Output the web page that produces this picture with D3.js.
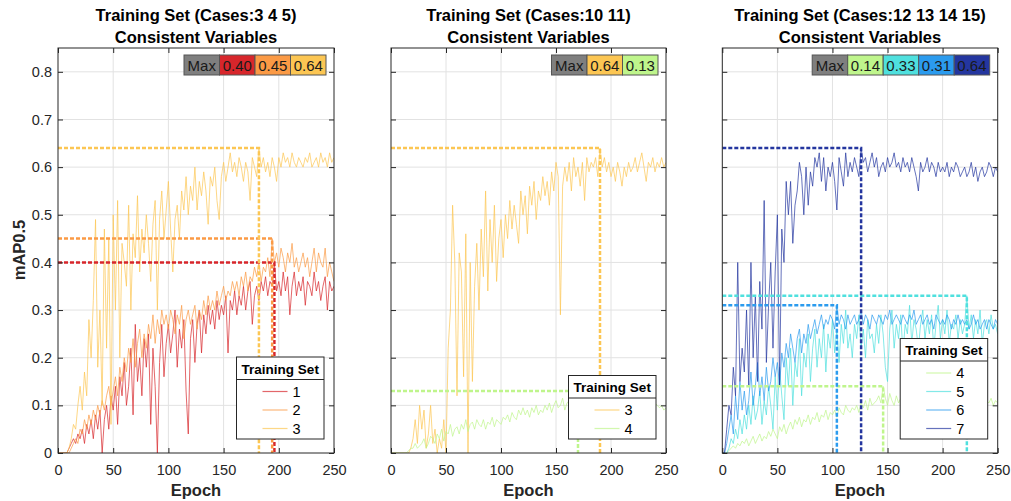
<!doctype html>
<html>
<head>
<meta charset="utf-8">
<title>Training Set mAP0.5</title>
<script src="https://d3js.org/d3.v7.min.js"></script>
<style>
body { margin: 0; background: #fff; }
text { font-family: 'Liberation Sans', Arial, sans-serif; }
</style>
</head>
<body>
<div id="chart"></div>
<script>

// x categories: one value every 2 epochs
var epochs = d3.range(0, 252, 2);

var titles = ["Training Set (Cases:3 4 5)", "Training Set (Cases:10 11)", "Training Set (Cases:12 13 14 15)"];
var subTitle = "Consistent Variables";
var xTicks = [0, 50, 100, 150, 200, 250];
var yTicks = [0, 0.1, 0.2, 0.3, 0.4, 0.5, 0.6, 0.7, 0.8];
var yTickLabels = ["0", "0.1", "0.2", "0.3", "0.4", "0.5", "0.6", "0.7", "0.8"];

//panel 1 (cases 3 4 5)
var p1_set1 = [0,0,0,0,0,0.01,0.02,0.03,0.02,0.04,
  0.03,0.05,0.02,0.06,0.04,0.07,0.03,0.08,0.05,0.09,
  0.0,0.07,0.10,0.05,0.12,0.09,0.14,0.06,0.16,0.12,
  0.19,0.10,0.14,0.22,0.08,0.27,0.15,0.20,0.12,0.24,
  0.18,0.25,0.06,0.22,0.14,0.0,0.19,0.27,0.16,0.23,
  0.27,0.21,0.25,0.30,0.18,0.26,0.22,0.28,0.13,0.04,
  0.24,0.28,0.19,0.27,0.30,0.21,0.29,0.25,0.31,0.27,
  0.30,0.26,0.32,0.28,0.31,0.29,0.33,0.21,0.32,0.30,
  0.34,0.29,0.33,0.31,0.35,0.30,0.34,0.36,0.27,0.33,
  0.35,0.32,0.36,0.34,0.37,0.33,0.36,0.35,0.40,0.34,
  0.36,0.33,0.38,0.34,0.37,0.29,0.35,0.38,0.33,0.36,
  0.34,0.37,0.31,0.36,0.35,0.33,0.38,0.34,0.36,0.32,
  0.35,0.37,0.30,0.36,0.34,0.35];
var p1_set2 = [0,0,0,0,0,0,0.01,0.02,0.03,0.02,
  0.05,0.04,0.07,0.05,0.08,0.06,0.09,0.07,0.10,0.08,
  0.11,0.09,0.12,0.14,0.10,0.13,0.16,0.12,0.18,0.15,
  0.20,0.17,0.22,0.19,0.24,0.18,0.23,0.26,0.20,0.25,
  0.22,0.27,0.24,0.29,0.23,0.28,0.25,0.30,0.27,0.29,
  0.26,0.30,0.28,0.25,0.29,0.27,0.31,0.24,0.28,0.30,
  0.27,0.29,0.31,0.26,0.30,0.28,0.32,0.29,0.33,0.30,
  0.32,0.30,0.34,0.31,0.33,0.35,0.32,0.34,0.33,0.36,
  0.34,0.36,0.33,0.37,0.35,0.38,0.34,0.37,0.36,0.39,
  0.37,0.40,0.36,0.39,0.38,0.41,0.37,0.45,0.40,0.42,
  0.39,0.43,0.41,0.38,0.42,0.40,0.44,0.39,0.41,0.38,
  0.40,0.42,0.39,0.41,0.37,0.40,0.43,0.38,0.42,0.40,
  0.39,0.43,0.37,0.40,0.38,0.36];
var p1_set3 = [0,0,0,0,0,0.01,0.03,0.06,0.05,0.10,
  0.14,0.09,0.17,0.12,0.28,0.20,0.32,0.49,0.18,0.30,
  0.10,0.47,0.22,0.45,0.06,0.50,0.30,0.53,0.20,0.44,
  0.40,0.35,0.52,0.30,0.46,0.41,0.54,0.38,0.47,0.42,
  0.50,0.44,0.36,0.48,0.53,0.30,0.49,0.55,0.45,0.51,
  0.57,0.47,0.38,0.49,0.52,0.45,0.55,0.51,0.58,0.50,
  0.56,0.53,0.60,0.51,0.57,0.54,0.59,0.55,0.48,0.58,
  0.56,0.60,0.53,0.49,0.58,0.61,0.57,0.60,0.63,0.59,
  0.61,0.58,0.62,0.60,0.57,0.61,0.59,0.53,0.62,0.60,
  0.58,0.64,0.60,0.62,0.59,0.61,0.58,0.62,0.60,0.57,
  0.62,0.60,0.63,0.61,0.62,0.60,0.63,0.61,0.60,0.62,
  0.61,0.60,0.62,0.61,0.63,0.60,0.61,0.62,0.60,0.63,
  0.61,0.62,0.60,0.63,0.61,0.62];

//panel 2 (cases 10 11)
var p2_set3 = [0,0,0,0,0,0,0,0,0,0.01,
  0.03,0.07,0.02,0.10,0.05,0.09,0.01,0.04,0.10,0.02,
  0.05,0.0,0.03,0.01,0.07,0.0,0.22,0.30,0.52,0.40,
  0.12,0.42,0.38,0.16,0.46,0.0,0.40,0.15,0.35,0.44,
  0.30,0.47,0.37,0.55,0.34,0.49,0.40,0.52,0.36,0.45,
  0.49,0.41,0.50,0.45,0.53,0.47,0.52,0.48,0.44,0.55,
  0.50,0.54,0.46,0.56,0.52,0.57,0.49,0.55,0.53,0.58,
  0.54,0.57,0.52,0.59,0.55,0.61,0.58,0.29,0.56,0.60,
  0.57,0.61,0.55,0.62,0.58,0.60,0.56,0.61,0.53,0.62,
  0.59,0.61,0.60,0.62,0.58,0.64,0.60,0.62,0.59,0.61,
  0.58,0.60,0.57,0.61,0.59,0.56,0.60,0.58,0.61,0.59,
  0.60,0.62,0.59,0.61,0.63,0.60,0.57,0.61,0.60,0.62,
  0.59,0.61,0.60,0.62,0.60,0.61];
var p2_set4 = [0,0,0,0,0,0,0,0,0.005,0.01,
  0.01,0.02,0.01,0.015,0.02,0.03,0.01,0.02,0.035,0.03,
  0.02,0.04,0.03,0.05,0.025,0.045,0.04,0.06,0.035,0.05,
  0.055,0.04,0.06,0.05,0.07,0.045,0.06,0.065,0.05,0.07,
  0.06,0.055,0.07,0.05,0.065,0.06,0.075,0.055,0.07,0.065,
  0.06,0.075,0.07,0.08,0.065,0.085,0.075,0.07,0.09,0.08,
  0.095,0.08,0.09,0.075,0.095,0.085,0.10,0.08,0.09,0.085,
  0.10,0.09,0.105,0.085,0.10,0.11,0.095,0.10,0.115,0.09,
  0.105,0.11,0.10,0.115,0.105,0.13,0.10,0.11,0.105,0.095,
  0.11,0.10,0.115,0.105,0.10,0.11,0.095,0.105,0.11,0.10,
  0.105,0.11,0.095,0.10,0.115,0.105,0.10,0.11,0.095,0.105,
  0.10,0.11,0.105,0.095,0.10,0.11,0.105,0.10,0.095,0.10,
  0.105,0.10,0.095,0.10,0.09,0.095];

//panel 3 (cases 12 13 14 15)
var p3_set4 = [0,0,0,0.005,0.01,0.015,0.01,0.02,0.015,0.025,
  0.02,0.03,0.015,0.025,0.035,0.02,0.03,0.04,0.025,0.035,
  0.03,0.045,0.035,0.05,0.04,0.03,0.055,0.045,0.06,0.04,
  0.055,0.065,0.05,0.07,0.06,0.075,0.055,0.07,0.065,0.08,
  0.06,0.075,0.07,0.085,0.065,0.08,0.075,0.09,0.07,0.085,
  0.08,0.09,0.075,0.095,0.085,0.08,0.10,0.09,0.085,0.095,
  0.09,0.10,0.085,0.105,0.095,0.11,0.09,0.115,0.10,0.105,
  0.11,0.12,0.105,0.14,0.115,0.10,0.125,0.11,0.10,0.12,
  0.105,0.115,0.10,0.12,0.11,0.095,0.115,0.105,0.10,0.11,
  0.10,0.115,0.105,0.095,0.11,0.10,0.115,0.105,0.10,0.11,
  0.105,0.10,0.115,0.11,0.095,0.105,0.11,0.10,0.115,0.105,
  0.10,0.11,0.105,0.115,0.10,0.105,0.11,0.12,0.105,0.10,
  0.11,0.105,0.115,0.10,0.11,0.105];
var p3_set5 = [0,0,0,0.01,0.03,0.02,0.05,0.03,0.07,0.04,
  0.08,0.05,0.10,0.06,0.12,0.07,0.09,0.13,0.06,0.11,
  0.08,0.14,0.10,0.05,0.16,0.09,0.18,0.12,0.07,0.20,
  0.14,0.22,0.10,0.19,0.16,0.24,0.12,0.21,0.18,0.25,
  0.15,0.22,0.26,0.18,0.24,0.20,0.27,0.17,0.25,0.22,
  0.28,0.21,0.26,0.19,0.27,0.23,0.30,0.22,0.25,0.20,
  0.27,0.24,0.29,0.22,0.26,0.20,0.28,0.24,0.25,0.21,
  0.27,0.23,0.29,0.25,0.18,0.15,0.26,0.30,0.22,0.27,
  0.24,0.29,0.21,0.27,0.25,0.31,0.23,0.28,0.26,0.22,
  0.27,0.30,0.24,0.28,0.25,0.29,0.22,0.27,0.31,0.24,
  0.28,0.25,0.30,0.23,0.27,0.26,0.29,0.24,0.28,0.25,
  0.27,0.33,0.26,0.29,0.24,0.28,0.25,0.30,0.23,0.27,
  0.28,0.25,0.29,0.26,0.27,0.25];
var p3_set6 = [0,0,0.02,0.05,0.08,0.04,0.12,0.07,0.15,0.09,
  0.13,0.08,0.11,0.17,0.10,0.14,0.19,0.12,0.16,0.11,
  0.18,0.13,0.15,0.20,0.16,0.19,0.14,0.21,0.18,0.23,
  0.20,0.25,0.22,0.19,0.24,0.26,0.21,0.25,0.23,0.27,
  0.24,0.26,0.28,0.25,0.27,0.29,0.26,0.28,0.27,0.29,
  0.28,0.26,0.31,0.27,0.29,0.28,0.26,0.29,0.27,0.28,
  0.29,0.27,0.28,0.30,0.27,0.29,0.28,0.26,0.29,0.28,
  0.27,0.29,0.28,0.27,0.29,0.28,0.30,0.27,0.28,0.29,
  0.28,0.27,0.29,0.28,0.27,0.29,0.28,0.30,0.27,0.28,
  0.29,0.27,0.28,0.29,0.27,0.28,0.26,0.29,0.28,0.27,
  0.28,0.27,0.29,0.28,0.26,0.28,0.27,0.29,0.27,0.28,
  0.27,0.28,0.26,0.27,0.29,0.27,0.28,0.26,0.27,0.28,
  0.26,0.28,0.27,0.26,0.28,0.27];
var p3_set7 = [0,0,0.05,0.10,0.08,0.18,0.12,0.40,0.15,0.22,
  0.17,0.30,0.14,0.40,0.20,0.33,0.15,0.36,0.26,0.53,
  0.19,0.31,0.40,0.22,0.38,0.50,0.14,0.47,0.40,0.57,
  0.50,0.57,0.44,0.52,0.55,0.61,0.58,0.50,0.60,0.52,
  0.59,0.56,0.62,0.60,0.63,0.57,0.62,0.55,0.60,0.58,
  0.61,0.57,0.51,0.62,0.59,0.56,0.63,0.58,0.61,0.59,
  0.62,0.60,0.58,0.64,0.61,0.62,0.59,0.61,0.63,0.60,
  0.62,0.58,0.60,0.61,0.59,0.62,0.60,0.61,0.63,0.60,
  0.61,0.59,0.62,0.60,0.61,0.59,0.62,0.60,0.58,0.55,
  0.61,0.59,0.60,0.62,0.59,0.61,0.60,0.58,0.61,0.59,
  0.60,0.59,0.61,0.58,0.60,0.59,0.61,0.60,0.58,0.59,
  0.60,0.58,0.59,0.61,0.58,0.60,0.57,0.59,0.60,0.58,
  0.59,0.61,0.60,0.58,0.60,0.59];

var setColors = {1: "#d7262b", 2: "#fb9a45", 3: "#fcc653", 4: "#bff58c", 5: "#4fe0de", 6: "#2b9bee", 7: "#24369f"};

var panels = [
	{title: titles[0], left: 58, right: 334, sets: [1, 2, 3], data: [p1_set1, p1_set2, p1_set3], yLabels: true},
	{title: titles[1], left: 391, right: 666, sets: [3, 4], data: [p2_set3, p2_set4], yLabels: false},
	{title: titles[2], left: 722.3, right: 997.7, sets: [4, 5, 6, 7], data: [p3_set4, p3_set5, p3_set6, p3_set7], yLabels: false}
];

var width = 1011, height = 501;
var plotTop = 48, plotBottom = 453;
var ink = "#262626";

var svg = d3.select("#chart")
	.append("svg")
	.attr("width", width)
	.attr("height", height);

panels.forEach(function(p, pi){

	var x = d3.scaleLinear().domain([0, 250]).range([p.left, p.right]);
	var y = d3.scaleLinear().domain([0, 0.85]).range([plotBottom, plotTop]);
	var g = svg.append("g");

	// grid
	g.selectAll(".gx").data(xTicks.slice(1, -1)).enter().append("line")
		.attr("x1", x).attr("x2", x).attr("y1", plotTop).attr("y2", plotBottom)
		.attr("stroke", "#e2e2e2");
	g.selectAll(".gy").data(yTicks.slice(1)).enter().append("line")
		.attr("y1", y).attr("y2", y).attr("x1", p.left).attr("x2", p.right)
		.attr("stroke", "#e2e2e2");

	// clip to the axes
	svg.append("clipPath").attr("id", "clip" + pi).append("rect")
		.attr("x", p.left).attr("y", plotTop).attr("width", p.right - p.left).attr("height", plotBottom - plotTop);

	var line = d3.line()
		.x(function(d, i){ return x(epochs[i]); })
		.y(function(d){ return y(d); });

	var lines = g.append("g").attr("clip-path", "url(#clip" + pi + ")");
	p.data.forEach(function(vals, k){
		lines.append("path")
			.attr("d", line(vals))
			.attr("fill", "none")
			.attr("stroke", setColors[p.sets[k]])
			.attr("stroke-opacity", 0.7)
			.attr("stroke-width", 1);
	});

	// max markers: dashed from the y axis to the best epoch, then down to zero
	var maxes = p.data.map(function(vals){
		var i = d3.maxIndex(vals);
		return {v: vals[i], e: epochs[i]};
	});
	maxes.forEach(function(m, k){
		lines.append("path")
			.attr("d", "M" + x(0) + "," + y(m.v) + "L" + x(m.e) + "," + y(m.v) + "L" + x(m.e) + "," + y(0))
			.attr("fill", "none")
			.attr("stroke", setColors[p.sets[k]])
			.attr("stroke-width", 2.5)
			.attr("stroke-dasharray", "4,2");
	});

	// axes (ticks inside on all four sides)
	var ax = g.append("g").attr("transform", "translate(0," + plotBottom + ")")
		.call(d3.axisBottom(x).tickValues(xTicks).tickSizeInner(-5).tickSizeOuter(0).tickPadding(12));
	var axTop = g.append("g").attr("transform", "translate(0," + plotTop + ")")
		.call(d3.axisTop(x).tickValues(xTicks).tickSizeInner(-5).tickSizeOuter(0).tickFormat(""));
	var ay = g.append("g").attr("transform", "translate(" + p.left + ",0)")
		.call(d3.axisLeft(y).tickValues(yTicks).tickSizeInner(-5).tickSizeOuter(0).tickPadding(6)
			.tickFormat(function(d, i){ return p.yLabels ? yTickLabels[i] : ""; }));
	var ayR = g.append("g").attr("transform", "translate(" + p.right + ",0)")
		.call(d3.axisRight(y).tickValues(yTicks).tickSizeInner(-5).tickSizeOuter(0).tickFormat(""));
	[ax, axTop, ay, ayR].forEach(function(a){
		a.select(".domain").remove();
		a.selectAll(".tick line").attr("stroke", ink);
		a.selectAll(".tick text").attr("fill", ink).style("font-size", "14.5px")
			.style("font-family", "'Liberation Sans', Arial, sans-serif");
	});

	g.append("rect")
		.attr("x", p.left).attr("y", plotTop)
		.attr("width", p.right - p.left).attr("height", plotBottom - plotTop)
		.attr("fill", "none").attr("stroke", ink).attr("stroke-width", 1);

	// titles
	var cx = (p.left + p.right) / 2;
	g.append("text").attr("x", cx).attr("y", 21).attr("text-anchor", "middle")
		.style("font-size", "16.5px").style("font-weight", "bold").attr("fill", "#000").text(p.title);
	g.append("text").attr("x", cx).attr("y", 42.5).attr("text-anchor", "middle")
		.style("font-size", "16.5px").style("font-weight", "bold").attr("fill", "#000").text(subTitle);
	g.append("text").attr("x", cx).attr("y", 496).attr("text-anchor", "middle")
		.style("font-size", "16.5px").style("font-weight", "bold").attr("fill", ink).text("Epoch");

	// max box
	var cells = [{t: "Max", c: "#7f7f7f"}].concat(maxes.map(function(m, k){
		return {t: m.v.toFixed(2), c: setColors[p.sets[k]]};
	}));
	var cw = 35.5, ch = 20;
	var bx = p.right - 8 - cw * cells.length, by = plotTop + 7;
	cells.forEach(function(c, k){
		g.append("rect").attr("x", bx + k * cw).attr("y", by).attr("width", cw).attr("height", ch)
			.attr("fill", c.c).attr("stroke", "#555").attr("stroke-width", 1);
		g.append("text").attr("x", bx + k * cw + cw / 2).attr("y", by + 15.5).attr("text-anchor", "middle")
			.style("font-size", "15px").attr("fill", "#1a1a1a").text(c.t);
	});

	// legend
	var lw = 87.5, rowH = 18.5;
	var lh = 22.5 + p.sets.length * rowH + 4;
	var lx = p.right - 10 - lw, ly = 439 - lh;
	g.append("rect").attr("x", lx).attr("y", ly).attr("width", lw).attr("height", lh)
		.attr("fill", "#fff").attr("stroke", ink).attr("stroke-width", 1);
	g.append("line").attr("x1", lx).attr("x2", lx + lw).attr("y1", ly + 22.5).attr("y2", ly + 22.5)
		.attr("stroke", ink);
	g.append("text").attr("x", lx + lw / 2).attr("y", ly + 16.5).attr("text-anchor", "middle")
		.style("font-size", "13.5px").style("font-weight", "bold").attr("fill", "#000").text("Training Set");
	p.sets.forEach(function(s, k){
		var ry = ly + 22.5 + 12 + k * rowH;
		g.append("line").attr("x1", lx + 26).attr("x2", lx + 51).attr("y1", ry).attr("y2", ry)
			.attr("stroke", setColors[s]).attr("stroke-opacity", 0.7).attr("stroke-width", 1.2);
		g.append("text").attr("x", lx + 56).attr("y", ry + 5).style("font-size", "14.5px")
			.attr("fill", "#000").text(s);
	});
});

svg.append("text")
	.attr("transform", "translate(25,250) rotate(-90)")
	.attr("text-anchor", "middle")
	.style("font-size", "16.5px").style("font-weight", "bold").attr("fill", ink)
	.text("mAP0.5");

</script>
</body>
</html>
